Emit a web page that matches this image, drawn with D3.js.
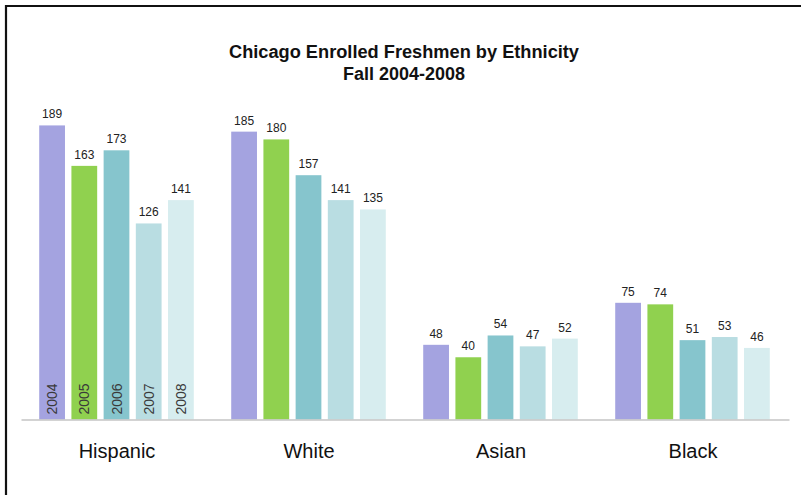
<!DOCTYPE html>
<html>
<head>
<meta charset="utf-8">
<script src="https://cdn.jsdelivr.net/npm/d3@7/dist/d3.min.js"></script>
<style>
  html, body { margin: 0; padding: 0; background: #fff; }
  svg { display: block; }
</style>
</head>
<body>
<svg id="chart" width="801" height="495"></svg>
<script>
// Enrolled freshmen by ethnicity, fall 2004–2008
const categories = ["Hispanic", "White", "Asian", "Black"];
const years = ["2004", "2005", "2006", "2007", "2008"];
const v2004 = [189, 185, 48, 75];
const v2005 = [163, 180, 40, 74];
const v2006 = [173, 157, 54, 51];
const v2007 = [126, 141, 47, 53];
const v2008 = [141, 135, 52, 46];
const yearColors = ["#a4a3e0", "#90d14f", "#86c5cd", "#b9dde2", "#d7edef"];
const titleLines = ["Chicago Enrolled Freshmen by Ethnicity", "Fall 2004-2008"];

const seriesByYear = [v2004, v2005, v2006, v2007, v2008];

const svg = d3.select("#chart");
const font = "'Liberation Sans', Arial, sans-serif";

// frame (top and left edges)
svg.append("path")
  .attr("d", "M6,495 L6,6 L801,6")
  .attr("fill", "none")
  .attr("stroke", "#111")
  .attr("stroke-width", 2.2);

// title
svg.selectAll("text.title")
  .data(titleLines)
  .join("text")
  .attr("class", "title")
  .attr("x", 404)
  .attr("y", (d, i) => 58 + i * 22)
  .attr("text-anchor", "middle")
  .attr("font-family", font)
  .attr("font-weight", "bold")
  .attr("font-size", 18)
  .attr("fill", "#111")
  .attr("textLength", (d, i) => i === 0 ? 350 : 122)
  .attr("lengthAdjust", "spacingAndGlyphs")
  .text(d => d);

// scales
const x0 = d3.scaleBand().domain(categories).range([21, 789]).padding(0);
const x1 = d3.scaleBand().domain(years).range([15, 176]).paddingInner(0.2).paddingOuter(0.1);
const y = d3.scaleLinear().domain([0, 200]).range([419.5, 108.3]);

const color = d3.scaleOrdinal().domain(years).range(yearColors);

const rows = [];
categories.forEach((c, ci) => {
  years.forEach((yr, yi) => {
    rows.push({ cat: c, year: yr, value: seriesByYear[yi][ci] });
  });
});

const g = svg.append("g");

g.selectAll("rect.bar")
  .data(rows)
  .join("rect")
  .attr("class", "bar")
  .attr("x", d => x0(d.cat) + x1(d.year))
  .attr("y", d => y(d.value))
  .attr("width", x1.bandwidth())
  .attr("height", d => y(0) - y(d.value))
  .attr("fill", d => color(d.year));

// value labels above bars
g.selectAll("text.val")
  .data(rows)
  .join("text")
  .attr("class", "val")
  .attr("x", d => x0(d.cat) + x1(d.year) + x1.bandwidth() / 2)
  .attr("y", d => y(d.value) - 7)
  .attr("text-anchor", "middle")
  .attr("font-family", font)
  .attr("font-size", 12)
  .attr("fill", "#222")
  .text(d => d.value);

// year labels inside the first group
g.selectAll("text.yr")
  .data(rows.filter(d => d.cat === categories[0]))
  .join("text")
  .attr("class", "yr")
  .attr("transform", d => {
    const cx = x0(d.cat) + x1(d.year) + x1.bandwidth() / 2 + 5;
    return `translate(${cx},${y(0) - 5}) rotate(-90)`;
  })
  .attr("text-anchor", "start")
  .attr("font-family", font)
  .attr("font-size", 14)
  .attr("fill", "#3a3a3a")
  .text(d => d.year);

// baseline axis
const axis = d3.axisBottom(x0).tickSize(0).tickPadding(24);
const ax = svg.append("g")
  .attr("transform", `translate(0,${y(0)})`)
  .call(axis);
ax.select(".domain").attr("stroke", "#c4c4c4").attr("stroke-width", 1.5);
ax.selectAll(".tick text")
  .attr("font-family", font)
  .attr("font-size", 20)
  .attr("fill", "#111");
</script>
</body>
</html>
